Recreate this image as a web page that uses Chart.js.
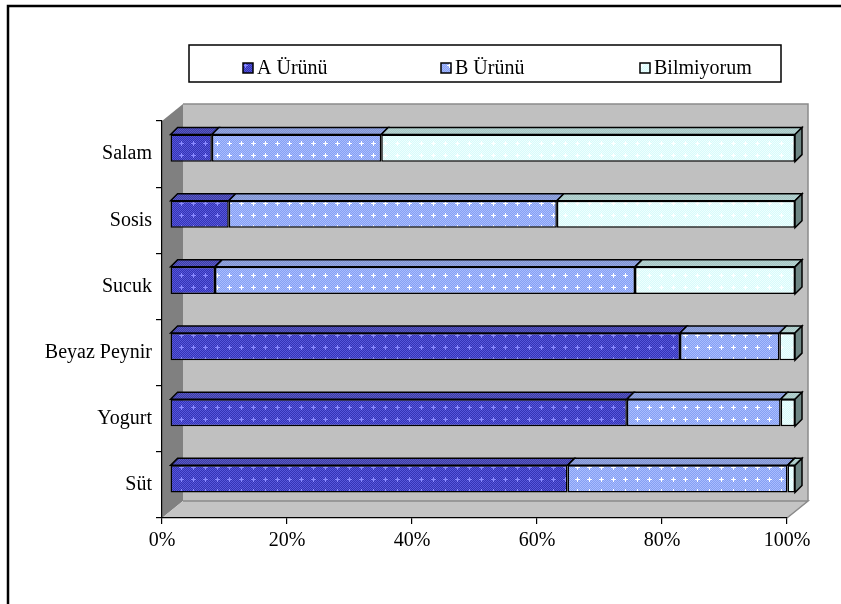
<!DOCTYPE html>
<html>
<head>
<meta charset="utf-8">
<script src="https://cdn.jsdelivr.net/npm/chart.js@4"></script>
<style>
  body { margin: 0; background: #fff; }
</style>
</head>
<body>
<canvas id="urunChart" width="841" height="604"></canvas>
<script>
// values (percent of answers)
var categories = ['Salam', 'Sosis', 'Sucuk', 'Beyaz Peynir', 'Yogurt', 'Süt'];
var aUrunu = [6.7, 9.4, 7.2, 81.6, 73.1, 63.6];
var bUrunu = [27.1, 52.5, 67.2, 15.9, 24.6, 35.2];
var bilmiyorum = [66.2, 38.1, 25.6, 2.5, 2.3, 1.2];
var seriesNames = ['A Ürünü', 'B Ürünü', 'Bilmiyorum'];
var xTicks = [0, 20, 40, 60, 80, 100];

var fontFam = "'Liberation Serif', 'Times New Roman', serif";

// small dotted fills like the old excel patterns
function makePattern(base, dot, plus) {
  var c = document.createElement('canvas');
  c.width = 12; c.height = 12;
  var g = c.getContext('2d');
  g.fillStyle = base;
  g.fillRect(0, 0, 12, 12);
  g.fillStyle = dot;
  for (var y = 0; y < 12; y++)
    for (var x = 0; x < 12; x++)
      if ((x + y) % 2 == 0) g.fillRect(x, y, 1, 1);
  if (plus) {
    g.fillStyle = plus;
    g.fillRect(5, 3, 1, 5);
    g.fillRect(3, 5, 5, 1);
  }
  return g.createPattern(c, 'repeat');
}

var frontFills = [
  makePattern('#3434b4', '#5656dc', '#8a8aff'),
  makePattern('#86a0f2', '#a8bcff', '#ffffff'),
  makePattern('#d8fafa', '#eeffff', '#ffffff')
];
var topFills = [
  makePattern('#3c3ca4', '#5a5ac4', null),
  makePattern('#7e92d2', '#96a8e0', null),
  makePattern('#a6c6c4', '#b6d4d2', null)
];
var sideColor = '#6e8684';

var depth = 7;          // bar depth
var shiftX = 8, shiftY = -6;   // bars sit a bit behind the axis plane
var wallX = 21, wallY = -17;   // back wall offset

var wallsPlugin = {
  id: 'walls',
  beforeDraw: function(chart) {
    var ctx = chart.ctx, a = chart.chartArea;
    ctx.save();
    ctx.fillStyle = '#fff';
    ctx.fillRect(0, 0, chart.width, chart.height);

    // outer frame (goes off the right/bottom edge)
    ctx.strokeStyle = '#000';
    ctx.lineWidth = 2.5;
    ctx.strokeRect(8, 6, chart.width + 20, chart.height + 20);

    // back wall
    ctx.fillStyle = '#c0c0c0';
    ctx.fillRect(a.left + wallX, a.top + wallY, a.right - a.left, a.bottom - a.top);
    ctx.strokeStyle = '#8a8a8a';
    ctx.lineWidth = 1.5;
    ctx.beginPath();
    ctx.moveTo(a.left + wallX, a.top + wallY);
    ctx.lineTo(a.right + wallX, a.top + wallY);
    ctx.lineTo(a.right + wallX, a.bottom + wallY);
    ctx.stroke();

    // left wall
    ctx.fillStyle = '#808080';
    ctx.beginPath();
    ctx.moveTo(a.left, a.top);
    ctx.lineTo(a.left + wallX, a.top + wallY);
    ctx.lineTo(a.left + wallX, a.bottom + wallY);
    ctx.lineTo(a.left, a.bottom);
    ctx.closePath();
    ctx.fill();

    // floor
    ctx.fillStyle = '#c4c4c4';
    ctx.beginPath();
    ctx.moveTo(a.left, a.bottom);
    ctx.lineTo(a.right, a.bottom);
    ctx.lineTo(a.right + wallX, a.bottom + wallY);
    ctx.lineTo(a.left + wallX, a.bottom + wallY);
    ctx.closePath();
    ctx.fill();
    ctx.strokeStyle = '#8a8a8a';
    ctx.lineWidth = 1.5;
    ctx.beginPath();
    ctx.moveTo(a.left + wallX, a.bottom + wallY);
    ctx.lineTo(a.right + wallX, a.bottom + wallY);
    ctx.lineTo(a.right, a.bottom);
    ctx.stroke();
    ctx.restore();
  },
  afterDraw: function(chart) {
    // legend box
    var ctx = chart.ctx;
    ctx.save();
    ctx.fillStyle = '#fff';
    ctx.fillRect(189, 45, 592, 37);
    ctx.strokeStyle = '#000';
    ctx.lineWidth = 1.5;
    ctx.strokeRect(189, 45, 592, 37);
    var starts = [243, 441, 640];
    ctx.font = '20px ' + fontFam;
    ctx.textBaseline = 'middle';
    ctx.textAlign = 'left';
    chart.data.datasets.forEach(function(ds, i) {
      var x = starts[i];
      ctx.fillStyle = frontFills[i];
      ctx.fillRect(x, 63, 10, 10);
      ctx.strokeStyle = '#000';
      ctx.lineWidth = 1.5;
      ctx.strokeRect(x, 63, 10, 10);
      ctx.fillStyle = '#000';
      ctx.fillText(ds.label, x + 14, 69);
    });
    ctx.restore();
  }
};

var bars3d = {
  id: 'bars3d',
  beforeDatasetsDraw: function(chart) {
    chart.ctx.save();
    chart.ctx.translate(shiftX, shiftY);
  },
  afterDatasetsDraw: function(chart) {
    var ctx = chart.ctx;
    var n = chart.data.datasets.length;
    for (var i = 0; i < n; i++) {
      var meta = chart.getDatasetMeta(i);
      meta.data.forEach(function(bar) {
        var p = bar.getProps(['x', 'y', 'base', 'height'], true);
        var left = Math.min(p.base, p.x), right = Math.max(p.base, p.x);
        var top = p.y - p.height / 2, bottom = p.y + p.height / 2;
        ctx.lineWidth = 1.5;
        ctx.strokeStyle = '#000';
        ctx.beginPath();
        ctx.moveTo(left, top);
        ctx.lineTo(left + depth, top - depth);
        ctx.lineTo(right + depth, top - depth);
        ctx.lineTo(right, top);
        ctx.closePath();
        ctx.fillStyle = topFills[i];
        ctx.fill();
        ctx.stroke();
        if (i == n - 1) {
          ctx.beginPath();
          ctx.moveTo(right, top);
          ctx.lineTo(right + depth, top - depth);
          ctx.lineTo(right + depth, bottom - depth);
          ctx.lineTo(right, bottom);
          ctx.closePath();
          ctx.fillStyle = sideColor;
          ctx.fill();
          ctx.stroke();
        }
      });
    }
    ctx.restore();
  }
};

var seriesData = [aUrunu, bUrunu, bilmiyorum];
var datasets = seriesData.map(function(vals, i) {
  return {
    label: seriesNames[i],
    data: vals,
    backgroundColor: frontFills[i],
    borderColor: '#000',
    borderWidth: 1.5,
    borderSkipped: false
  };
});

var ctx = document.getElementById('urunChart').getContext('2d');
var urunChart = new Chart(ctx, {
  type: 'bar',
  data: { labels: categories, datasets: datasets },
  plugins: [wallsPlugin, bars3d],
  options: {
    responsive: false,
    animation: false,
    indexAxis: 'y',
    layout: { padding: { top: 121, right: 54, bottom: 46, left: 0 } },
    datasets: { bar: { categoryPercentage: 1, barPercentage: 0.41 } },
    plugins: {
      legend: { display: false },
      tooltip: { enabled: false }
    },
    scales: {
      x: {
        stacked: true,
        min: 0,
        max: 100,
        afterBuildTicks: function(s) {
          s.ticks = xTicks.map(function(v) { return { value: v }; });
        },
        ticks: {
          callback: function(v) { return v + '%'; },
          color: '#000',
          font: { family: fontFam, size: 20 },
          padding: 5,
          maxRotation: 0
        },
        grid: { drawOnChartArea: false, tickLength: 6, color: '#000', lineWidth: 1.2 },
        border: { color: '#000', width: 1.2 },
        afterFit: function(s) { s.height = 40; }
      },
      y: {
        stacked: true,
        ticks: {
          color: '#000',
          font: { family: fontFam, size: 20 },
          padding: 4
        },
        grid: { drawOnChartArea: false, tickLength: 6, color: '#000', lineWidth: 1.2, offset: true },
        border: { color: '#000', width: 1.2 },
        afterFit: function(s) { s.width = 162; }
      }
    }
  }
});
</script>
</body>
</html>
